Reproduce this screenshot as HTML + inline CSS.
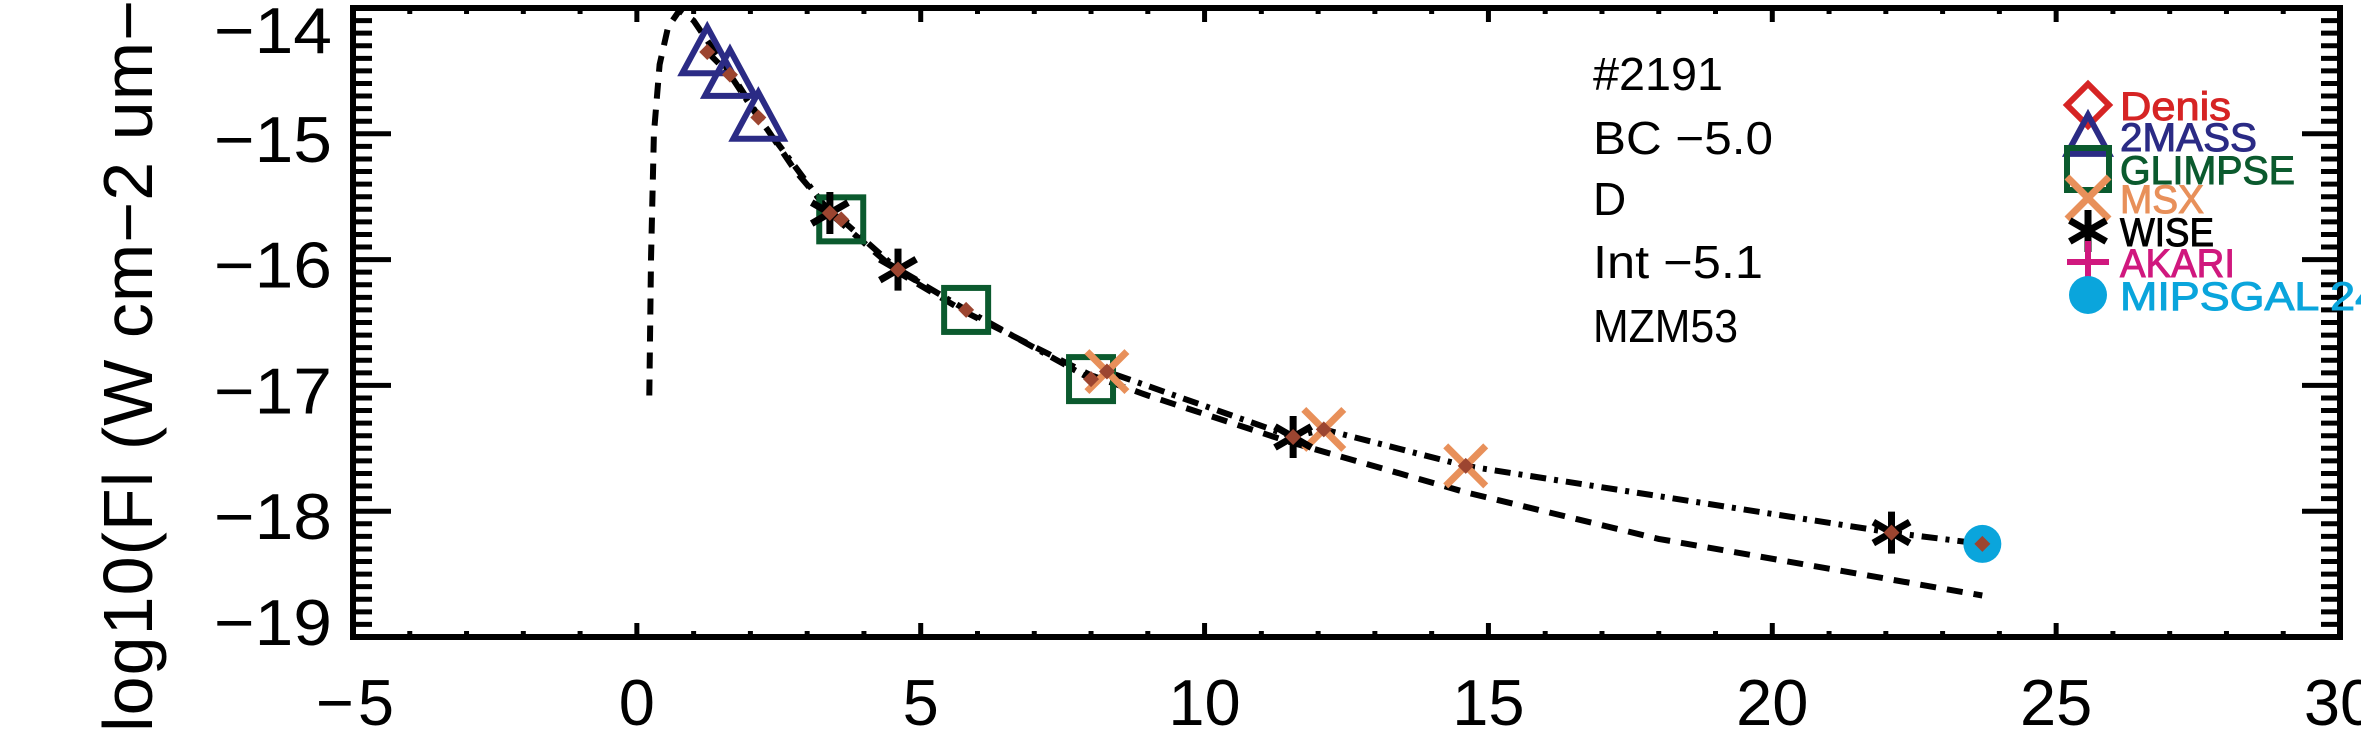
<!DOCTYPE html>
<html><head><meta charset="utf-8"><style>
html,body{margin:0;padding:0;background:#fff;}
svg{display:block;font-family:"Liberation Sans",sans-serif;}
</style></head><body>
<svg id="chart" width="2361" height="750" viewBox="0 0 2361 750" xmlns="http://www.w3.org/2000/svg">
<g id="axes"></g>
<g id="curves"></g>
<g id="marks"></g>
<text transform="translate(152,732) rotate(-90)" font-size="70" textLength="732" lengthAdjust="spacing">log10(Fl (W cm−2 um−</text>
<g font-size="46" fill="#000">
<text x="1593" y="90" textLength="130" lengthAdjust="spacingAndGlyphs">#2191</text>
<text x="1593" y="154" textLength="180" lengthAdjust="spacingAndGlyphs">BC  −5.0</text>
<text x="1593" y="215">D</text>
<text x="1593" y="278" textLength="170" lengthAdjust="spacingAndGlyphs">Int  −5.1</text>
<text x="1593" y="342" textLength="145" lengthAdjust="spacingAndGlyphs">MZM53</text>
</g>
<g id="legend"></g>
</svg>
<script>
const NS="http://www.w3.org/2000/svg";
// data arrays
const xTicks=[-5,0,5,10,15,20,25,30];
const yTicks=[-14,-15,-16,-17,-18,-19];
const twomassX=[1.24,1.64,2.14];
const twomassY=[-14.35,-14.53,-14.87];
const glimpseX=[3.6,5.8,8.0];
const glimpseY=[-15.68,-16.40,-16.95];
const msxX=[8.28,12.1,14.6];
const msxY=[-16.89,-17.35,-17.64];
const wiseX=[3.4,4.6,11.56,22.1];
const wiseY=[-15.63,-16.08,-17.41,-18.17];
const mipsX=[23.7];
const mipsY=[-18.26];
const fitX=[1.24,1.64,2.14,3.4,3.6,4.6,5.8,8.0,8.28,11.56,12.1,14.6,22.1,23.7];
const fitY=[-14.35,-14.53,-14.87,-15.63,-15.68,-16.08,-16.40,-16.95,-16.89,-17.41,-17.35,-17.64,-18.17,-18.26];
const modelX=[0.22,0.25,0.3,0.4,0.55,0.75,1.0,1.3,1.7,2.2,2.8,3.5,4.6,5.8,8,9,11.5,14.6,18,23.7];
const modelY=[-17.08,-16.0,-15.0,-14.45,-14.15,-14.02,-14.1,-14.3,-14.55,-14.9,-15.3,-15.67,-16.1,-16.42,-16.92,-17.08,-17.45,-17.85,-18.22,-18.67];

const L=353,R=2340,T=8,B=637;
function xs(v){return L+(v+5)/35*(R-L);}
function ys(v){return T+(-14-v)/5*(B-T);}
function mk(tag,attrs,parent){const e=document.createElementNS(NS,tag);for(const k in attrs)e.setAttribute(k,attrs[k]);parent.appendChild(e);return e;}

const axes=document.getElementById('axes');
const frame=mk('rect',{x:L,y:T,width:R-L,height:B-T,fill:'none',stroke:'#000','stroke-width':6},axes);


for(let v=-5;v<=30;v++){
  const major=(v%5===0);const len=major?14:6;
  const t1=mk('line',{x1:xs(v),x2:xs(v),y1:B,y2:B-len,stroke:'#000','stroke-width':5},axes);
  
  
  const t2=mk('line',{x1:xs(v),x2:xs(v),y1:T,y2:T+len,stroke:'#000','stroke-width':5},axes);
  
  
}
xTicks.forEach(v=>{
  const s=v<0?'−'+Math.abs(v):String(v);
  const t=mk('text',{x:xs(v),y:725,'font-size':65,'text-anchor':'middle'},axes);
  if(v<0){t.setAttribute('textLength',78);t.setAttribute('x',xs(v)+2);}
  t.textContent=s;
  
  
});
for(let i=0;i<=50;i++){
  const v=-14-i*0.1;const major=(i%10===0);const len=major?38:19;
  const a=mk('line',{x1:L,x2:L+len,y1:ys(v),y2:ys(v),stroke:'#000','stroke-width':5},axes);
  
  
  const b=mk('line',{x1:R,x2:R-len,y1:ys(v),y2:ys(v),stroke:'#000','stroke-width':5},axes);
  
  
}
yTicks.forEach((v,i)=>{
  let yy=ys(v)+28;
  if(i===0)yy=53; if(i===yTicks.length-1)yy=645;
  const t=mk('text',{x:332,y:yy,'font-size':65,'text-anchor':'end',textLength:118,lengthAdjust:'spacingAndGlyphs'},axes);
  t.textContent='−'+Math.abs(v);
  
  
});

const curves=document.getElementById('curves');
function pts(X,Y){return X.map((x,i)=>xs(x).toFixed(1)+','+ys(Y[i]).toFixed(1)).join(' ');}
const model=mk('polyline',{points:pts(modelX,modelY),fill:'none',stroke:'#000','stroke-width':6,'stroke-dasharray':'16 11'},curves);


const fit=mk('polyline',{points:pts(fitX,fitY),fill:'none',stroke:'#000','stroke-width':6,'stroke-dasharray':'16 8 4 8'},curves);



function marker(type,cx,cy,s,parent){
  const g=mk('g',{},parent);const h=s/2;
  if(type==='diamond') mk('polygon',{points:`${cx},${cy-h} ${cx+h},${cy} ${cx},${cy+h} ${cx-h},${cy}`,fill:'none',stroke:'#d62424','stroke-width':6},g);
  if(type==='tri') mk('polygon',{points:`${cx},${cy-h} ${cx+h},${cy+h*0.85} ${cx-h},${cy+h*0.85}`,fill:'none',stroke:'#2b2b85','stroke-width':6},g);
  if(type==='square') mk('rect',{x:cx-h,y:cy-h,width:s,height:s,fill:'none',stroke:'#0b5a2e','stroke-width':6},g);
  if(type==='x'){mk('line',{x1:cx-h,y1:cy-h,x2:cx+h,y2:cy+h,stroke:'#e8905a','stroke-width':7},g);mk('line',{x1:cx-h,y1:cy+h,x2:cx+h,y2:cy-h,stroke:'#e8905a','stroke-width':7},g);}
  if(type==='ast'){[0,60,120].forEach(a=>{const r=a*Math.PI/180;mk('line',{x1:cx-h*Math.sin(r),y1:cy-h*Math.cos(r),x2:cx+h*Math.sin(r),y2:cy+h*Math.cos(r),stroke:'#000','stroke-width':7},g);});}
  if(type==='plus'){mk('line',{x1:cx-h,y1:cy,x2:cx+h,y2:cy,stroke:'#d0187e','stroke-width':6},g);mk('line',{x1:cx,y1:cy-h,x2:cx,y2:cy+h,stroke:'#d0187e','stroke-width':6},g);}
  if(type==='circle') mk('circle',{cx:cx,cy:cy,r:h,fill:'#0aa5dc'},g);
  if(type==='small') mk('polygon',{points:`${cx},${cy-8} ${cx+8},${cy} ${cx},${cy+8} ${cx-8},${cy}`,fill:'#9c4530'},g);
  return g;
}
const marks=document.getElementById('marks');
function series(X,Y,type,s,name){
  X.forEach((x,i)=>{
    const g=marker(type,xs(x),ys(Y[i]),s,marks);
    
    
  });
}
series(mipsX,mipsY,'circle',38,'mipsgal-point');
series(twomassX,twomassY,'tri',50,'twomass-point');
series(glimpseX,glimpseY,'square',44,'glimpse-point');
series(msxX,msxY,'x',40,'msx-point');
series(wiseX,wiseY,'ast',42,'wise-point');
series(fitX,fitY,'small',0,'model-flux-point');

const legNames=['Denis','2MASS','GLIMPSE','MSX','WISE','AKARI','MIPSGAL  24'];
const legTypes=['diamond','tri','square','x','ast','plus','circle'];
const legColors=['#d62424','#2b2b85','#0b5a2e','#e8905a','#000','#d0187e','#0aa5dc'];
const legW=[111,137,175,84,94,115,260];
const legY=[120,151,184,213,246,277,310];
const leg=document.getElementById('legend');
legNames.forEach((n,i)=>{
  const g=marker(legTypes[i],2088,legY[i]-15,legTypes[i]==='circle'?38:42,leg);
  
  
  const t=mk('text',{x:2120,y:legY[i],'font-size':40,fill:legColors[i],stroke:legColors[i],'stroke-width':1,textLength:legW[i],lengthAdjust:'spacingAndGlyphs'},leg);
  t.textContent=n;
  
  
});
</script>
</body></html>
